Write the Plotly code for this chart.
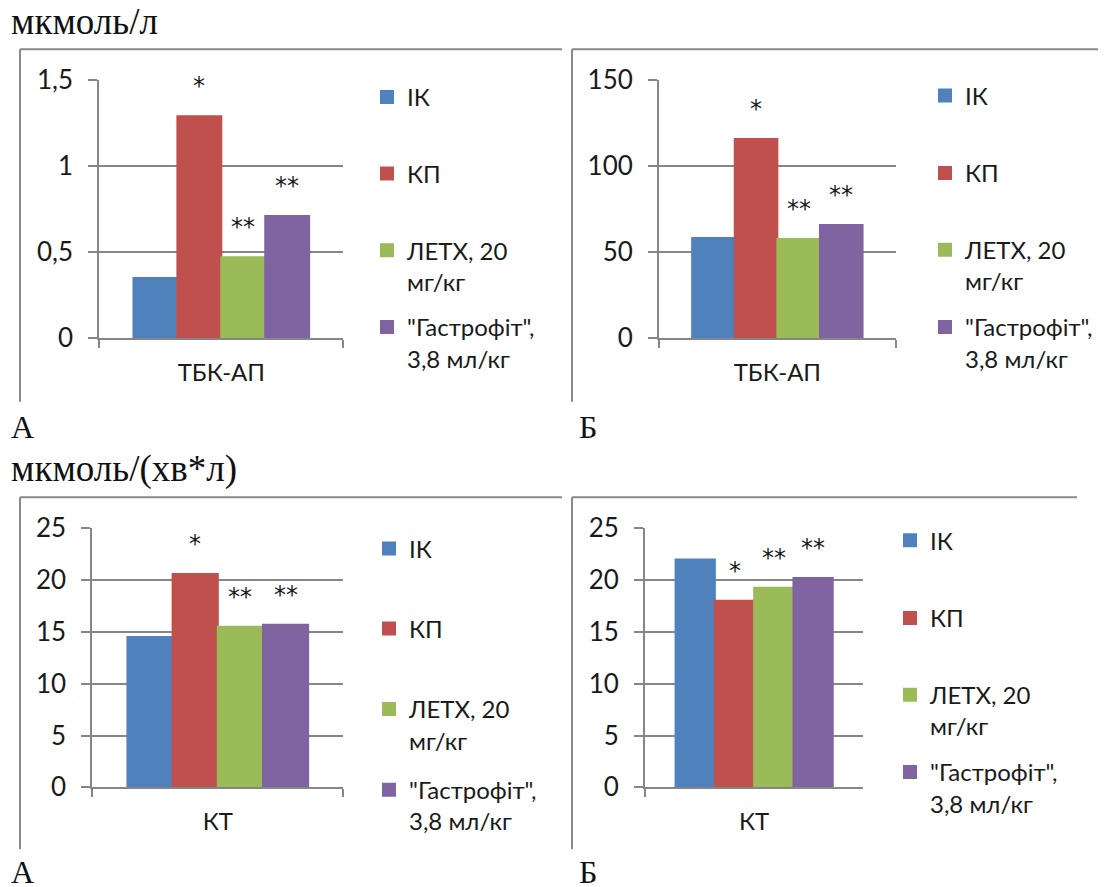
import plotly.graph_objects as go

W, H = 1106, 887
# the page body has a default 8px margin; the figure is drawn inside it
OX, OY = 8, 8
FW, FH = W - OX, H - OY

# ---------------- data ----------------
groups = ["ІК", "КП", "ЛЕТХ, 20<br>мг/кг", "\"Гастрофіт\",<br>3,8 мл/кг"]
colors = ["#4F81BD", "#C0504D", "#9BBB59", "#8064A2"]

tbk_a = [0.35, 1.29, 0.47, 0.71]
tbk_b = [58.2, 115.7, 57.7, 65.8]
kt_a = [14.5, 20.6, 15.5, 15.7]
kt_b = [22.0, 18.0, 19.25, 20.2]
marks = ["", "*", "**", "**"]

cat_top = "ТБК-АП"
cat_bot = "КТ"
unit_top = "мкмоль/л"
unit_bot = "мкмоль/(хв*л)"
panel_letters = ["А", "Б", "А", "Б"]

SANS = "Lato, 'Open Sans', sans-serif"
SERIF = "'Liberation Serif', 'DejaVu Serif', serif"
AXC = "#868686"
TXT = "#1a1a1a"
BARGAP = 0.28


def px(x):
    return (x - OX) / FW


def py(y):
    return 1 - (y - OY) / FH


# panel geometry (pixels in the window): x-domain, y-domain, y max, dtick, legend info
panels = [
    dict(vals=tbk_a, cat=cat_top, xd=(99.3, 343.3), yd=(80, 338.3), ymax=1.5, dtick=0.5,
         leg_x=367, leg_y=[97.5, 174, 250.5, 327.3]),
    dict(vals=tbk_b, cat=cat_top, xd=(659, 895.7), yd=(80, 338.3), ymax=150, dtick=50,
         leg_x=925, leg_y=[96, 173.3, 250, 327.3]),
    dict(vals=kt_a, cat=cat_bot, xd=(92.3, 343.3), yd=(528.3, 787.3), ymax=25, dtick=5,
         leg_x=369, leg_y=[549, 629, 709.3, 790]),
    dict(vals=kt_b, cat=cat_bot, xd=(645, 863.3), yd=(528.3, 787.3), ymax=25, dtick=5,
         leg_x=890, leg_y=[540.7, 618.3, 695, 772.3]),
]

fig = go.Figure()
layout = dict(
    width=FW, height=FH, autosize=False,
    margin=dict(l=0, r=0, t=0, b=0, pad=0, autoexpand=False),
    paper_bgcolor="white", plot_bgcolor="white",
    barmode="group", bargap=BARGAP, bargroupgap=0,
    separators=", ",
    font=dict(family=SANS, size=24, color=TXT),
    annotations=[], shapes=[],
)

LINE_H = 24 * 1.3
legend_n = 0
for p_i, p in enumerate(panels):
    sfx = "" if p_i == 0 else str(p_i + 1)
    xa, ya = "x" + sfx, "y" + sfx
    for g_i, (name, col) in enumerate(zip(groups, colors)):
        legend_n += 1
        lid = "legend" if legend_n == 1 else f"legend{legend_n}"
        fig.add_trace(go.Bar(
            x=[p["cat"]], y=[p["vals"][g_i]], name=name,
            marker=dict(color=col, line=dict(width=2, color=col)),
            xaxis=xa, yaxis=ya, legend=lid, showlegend=True,
            hoverinfo="skip",
        ))
        nlines = name.count("<br>") + 1
        layout[lid] = dict(
            x=px(p["leg_x"]), xanchor="left",
            y=py(p["leg_y"][g_i] + (nlines - 1) * LINE_H / 2), yanchor="middle",
            valign="top", bgcolor="rgba(0,0,0,0)", borderwidth=0,
            font=dict(family=SANS, size=24, color=TXT),
        )
        # significance marks above bars
        if marks[g_i]:
            w = 1 - BARGAP
            xoff = -w / 2 + (g_i + 0.5) * w / len(groups)
            layout["annotations"].append(dict(
                x=xoff, y=p["vals"][g_i], xref=xa, yref=ya,
                text=marks[g_i], showarrow=False, xanchor="center", yanchor="middle",
                yshift=30, font=dict(family="DejaVu Sans", size=24, color=TXT),
            ))

    layout["xaxis" + sfx] = dict(
        domain=[px(p["xd"][0]), px(p["xd"][1])], anchor=ya,
        type="category", range=[-0.5, 0.5],
        showline=True, linecolor=AXC, linewidth=2,
        ticks="outside", tickson="boundaries", ticklen=8, tickwidth=2, tickcolor=AXC,
        showgrid=False, ticklabelstandoff=12,
        tickfont=dict(family=SANS, size=24, color=TXT),
    )
    layout["yaxis" + sfx] = dict(
        domain=[py(p["yd"][1]), py(p["yd"][0])], anchor=xa,
        range=[0, p["ymax"]], dtick=p["dtick"], tick0=0,
        showline=True, linecolor=AXC, linewidth=2,
        ticks="outside", ticklen=9, tickwidth=2, tickcolor=AXC,
        showgrid=True, gridcolor=AXC, gridwidth=2, zeroline=False,
        ticklabelstandoff=10,
        tickfont=dict(family=SANS, size=26, color=TXT),
    )

# panel frames
BORDER = "#8a8a8a"
frames = [
    (20, 562, 49.3, 401.7),
    (572, 1106, 49.3, 401.7),
    (20, 562, 497.3, 849.3),
    (572, 1077, 497.3, 849.3),
]
for (x0, x1, y0, y1) in frames:
    layout["shapes"].append(dict(type="line", xref="paper", yref="paper",
                                 x0=px(x0), x1=px(x1), y0=py(y0), y1=py(y0),
                                 line=dict(color=BORDER, width=2)))
    layout["shapes"].append(dict(type="line", xref="paper", yref="paper",
                                 x0=px(x0), x1=px(x0), y0=py(y0), y1=py(y1),
                                 line=dict(color=BORDER, width=2)))

# units and panel letters (serif)
serif_texts = [
    (unit_top, 9, 22, 37),
    (unit_bot, 9, 469, 37),
    (panel_letters[0], 9, 427, 32),
    (panel_letters[1], 577, 427, 32),
    (panel_letters[2], 9, 872, 32),
    (panel_letters[3], 577, 872, 32),
]
for txt, x, y, fs in serif_texts:
    layout["annotations"].append(dict(
        x=px(x), y=py(y), xref="paper", yref="paper", text=txt, showarrow=False,
        xanchor="left", yanchor="middle",
        font=dict(family=SERIF, size=fs, color="#111111"),
    ))

fig.update_layout(**layout)
fig.write_html("out.html")
